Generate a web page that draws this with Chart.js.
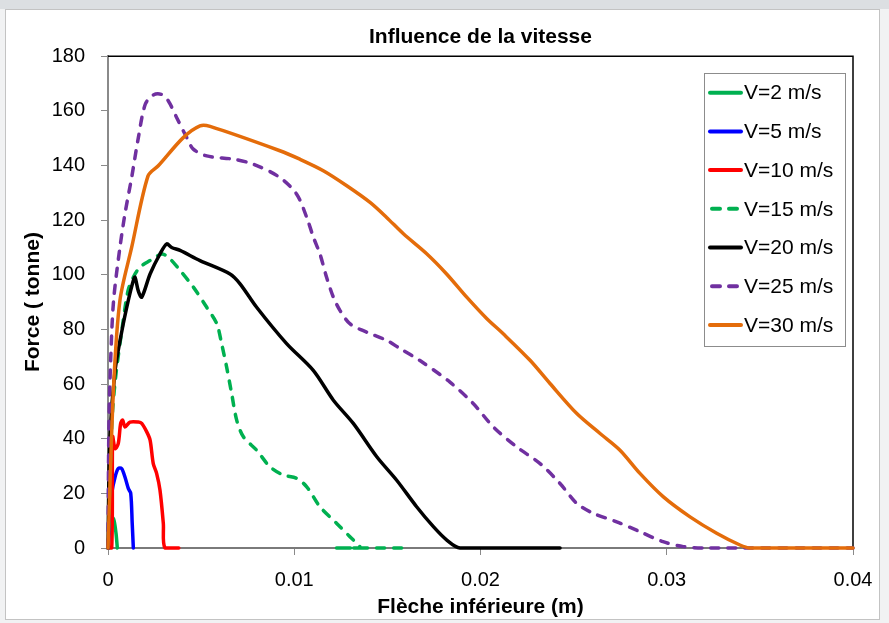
<!DOCTYPE html>
<html>
<head>
<meta charset="utf-8">
<title>Influence de la vitesse</title>
<script src="https://cdn.jsdelivr.net/npm/chart.js@4.4.0/dist/chart.umd.min.js"></script>
<style>
  html, body { margin: 0; padding: 0; background: #f1f2f3; }
  #topBar { position: absolute; left: 0; top: 0; width: 889px; height: 9px; background: #dcdfe2; }
  #frame { position: absolute; left: 5px; top: 9px; width: 873px; height: 609px; border: 1px solid #c3c3c3; background: #fff; }
  #wrap { position: absolute; left: 0; top: 0; width: 889px; height: 623px; }
</style>
</head>
<body>
<div id="topBar"></div>
<div id="frame"></div>
<div id="wrap"><canvas id="forceChart" width="889" height="623"></canvas></div>

<script>
// ---- data (x = flèche en m, y = force en tonnes) ----
const seriesLabels = ["V=2 m/s", "V=5 m/s", "V=10 m/s", "V=15 m/s", "V=20 m/s", "V=25 m/s", "V=30 m/s"];

const v2X = [0, 0.00012, 0.0002, 0.00032, 0.00043, 0.0005];
const v2F = [0, 10, 11.4, 10.2, 5.4, 0];

const v5X = [0, 0.00015, 0.0002, 0.00038, 0.00055, 0.00073, 0.00091, 0.00109, 0.00122, 0.0013, 0.00136];
const v5F = [0, 14, 20, 26, 29.1, 29.1, 26, 21.8, 20, 9, 0];

const v10X = [0, 0.0002, 0.00025, 0.00038, 0.00055, 0.00068, 0.00079, 0.00091, 0.00118, 0.00163, 0.00181,
              0.00208, 0.00226, 0.00243, 0.00261, 0.00279, 0.00297, 0.00306, 0.0038];
const v10F = [0, 0, 40.7, 36.4, 38.2, 45.6, 46.8, 44.3, 46.1, 46.1, 45.6,
              42.5, 39.5, 30.9, 27.3, 21.2, 9, 0, 0];

const v15X = [0, 0.0002, 0.0004, 0.00075, 0.00107, 0.00136, 0.00172, 0.00226, 0.00288, 0.00324, 0.00387,
              0.00458, 0.0053, 0.00584, 0.0061, 0.00637, 0.00664, 0.00691, 0.00727, 0.00798, 0.0087,
              0.00941, 0.01013, 0.01067, 0.01138, 0.01228, 0.01299, 0.01353, 0.0122, 0.0162];
const v15F = [0, 45, 62, 80, 94, 99.1, 102.8, 105.2, 107.6, 106.4, 101.6,
              95.5, 88.1, 82.1, 74.8, 66.2, 56.5, 46.8, 40.7, 35.8, 29.7,
              26.7, 25.5, 22.4, 15.1, 9, 4.1, 0, 0, 0];

const v20X = [0, 0.0001, 0.00038, 0.00075, 0.00109, 0.00136, 0.00145, 0.00163, 0.00181, 0.00226, 0.00279,
              0.00315, 0.00342, 0.00387, 0.00494, 0.00655, 0.00709, 0.00798, 0.00959, 0.01102, 0.0121,
              0.01317, 0.01443, 0.0155, 0.01657, 0.01747, 0.01819, 0.0189, 0.02427];
const v20F = [0, 40, 65, 79.6, 90.6, 97.9, 99.1, 94, 91.8, 100.3, 107.6,
              111.3, 110, 108.9, 105.2, 100.3, 96.7, 88.1, 74.8, 65, 54.1,
              45.6, 33.4, 24.8, 15.1, 7.8, 2.9, 0, 0];

const v25X = [0, 0.00005, 0.00015, 0.0003, 0.00064, 0.00091, 0.00127, 0.00163, 0.002, 0.00243, 0.00288,
              0.00324, 0.00369, 0.00423, 0.00458, 0.0053, 0.00673, 0.0078, 0.00923, 0.01013, 0.01067,
              0.01103, 0.01138, 0.01174, 0.0121, 0.01246, 0.013, 0.01389, 0.01496, 0.0157, 0.01675,
              0.01836, 0.01962, 0.02069, 0.02194, 0.0232, 0.02427, 0.02517, 0.02606, 0.02731, 0.02855,
              0.0298, 0.03089, 0.032, 0.04];
const v25F = [0, 45, 70, 90.6, 110, 122.3, 135.6, 150.2, 162.4, 165.8, 166,
              163.6, 157.5, 150.2, 146, 143.5, 142.3, 140.5, 135.6, 129.5, 121,
              113.7, 107.6, 99, 91.8, 86.9, 82, 79, 76, 72.9, 68.6,
              60.7, 52.8, 44.3, 37, 30.9, 23.6, 16.3, 12.7, 9.6, 6,
              2.3, 0.5, 0, 0];

const v30X = [0, 0.00029, 0.00064, 0.00127, 0.00215, 0.0027, 0.00404, 0.00494, 0.00548, 0.00923, 0.0103,
              0.01156, 0.01282, 0.01407, 0.01496, 0.01586, 0.01711, 0.01818, 0.01926, 0.02033, 0.02122,
              0.02266, 0.02373, 0.02517, 0.02642, 0.02749, 0.02856, 0.02982, 0.03125, 0.03268, 0.03393,
              0.03447, 0.04];
const v30F = [0, 57.7, 90.6, 110, 136.2, 139.9, 150.2, 154.5, 154.3, 145.4, 142.3,
              138.1, 132.6, 126.5, 121, 115, 107.7, 100.3, 91.8, 84, 78.4,
              68.7, 60.2, 49.2, 41.9, 35.8, 27.3, 18.7, 11.4, 5.4, 1.1,
              0, 0];

const xTickLabels = ["0", "0.01", "0.02", "0.03", "0.04"];
const yTickLabels = ["0", "20", "40", "60", "80", "100", "120", "140", "160", "180"];

const seriesX = [v2X, v5X, v10X, v15X, v20X, v25X, v30X];
const seriesF = [v2F, v5F, v10F, v15F, v20F, v25F, v30F];
const seriesColors = ["#00b050", "#0000ff", "#ff0000", "#00b050", "#000000", "#7030a0", "#e46c0a"];
const seriesDashed = [false, false, false, true, false, true, false];

const FONT = "'Liberation Sans', Arial, sans-serif";
const DASH = [8, 9];

// excel-like frame: black top/right edges of the plot area
const plotBorder = {
    id: "plotBorder",
    beforeDatasetsDraw(chart) {
        const { ctx, chartArea: a } = chart;
        ctx.save();
        ctx.strokeStyle = "#000";
        ctx.lineWidth = 1.5;
        ctx.beginPath();
        ctx.moveTo(a.left, a.top);
        ctx.lineTo(a.right, a.top);
        ctx.lineTo(a.right, a.bottom);
        ctx.stroke();
        ctx.restore();
    }
};

// boxed legend inside the plot, top right
const boxLegend = {
    id: "boxLegend",
    afterDraw(chart) {
        const ctx = chart.ctx;
        const left = 704, top = 73, w = 141, h = 273;
        ctx.save();
        ctx.fillStyle = "#fff";
        ctx.fillRect(left, top, w, h);
        ctx.strokeStyle = "#8c8c8c";
        ctx.lineWidth = 1;
        ctx.strokeRect(left + 0.5, top + 0.5, w, h);
        ctx.font = "21px " + FONT;
        ctx.textBaseline = "middle";
        ctx.textAlign = "left";
        chart.data.datasets.forEach((ds, i) => {
            const y = 92.7 + i * 38.7;
            ctx.strokeStyle = ds.borderColor;
            ctx.lineWidth = 4;
            ctx.lineCap = "round";
            ctx.setLineDash(ds.borderDash || []);
            ctx.beginPath();
            ctx.moveTo(ds.borderDash ? 712 : 710, y);
            ctx.lineTo(741, y);
            ctx.stroke();
            ctx.setLineDash([]);
            ctx.fillStyle = "#000";
            ctx.fillText(ds.label, 744, y + 1);
        });
        ctx.restore();
    }
};

const datasets = seriesLabels.map((label, i) => ({
    label: label,
    data: seriesX[i].map((x, k) => ({ x: x, y: seriesF[i][k] })),
    borderColor: seriesColors[i],
    backgroundColor: seriesColors[i],
    borderWidth: 3.5,
    borderDash: seriesDashed[i] ? DASH : undefined,
    borderCapStyle: "round",
    borderJoinStyle: "round",
    showLine: true,
    pointRadius: 0,
    tension: 0.3,
    clip: false,
    order: seriesLabels.length - i   // last series on top, as in the sheet
}));

new Chart(document.getElementById("forceChart"), {
    type: "scatter",
    data: { datasets: datasets },
    plugins: [plotBorder, boxLegend],
    options: {
        responsive: false,
        animation: false,
        layout: { padding: { left: 0, right: 36, top: 0, bottom: 0 } },
        plugins: {
            legend: { display: false },
            tooltip: { enabled: false },
            title: {
                display: true,
                fullSize: false,
                text: "Influence de la vitesse",
                color: "#000",
                font: { family: FONT, size: 21, weight: "bold" },
                padding: { top: 25, bottom: 6 }
            }
        },
        scales: {
            x: {
                type: "linear",
                min: 0,
                max: 0.04,
                afterFit(scale) { scale.height = 75; },
                ticks: {
                    stepSize: 0.01,
                    padding: 13,
                    color: "#000",
                    font: { family: FONT, size: 20 },
                    callback: (v, i) => xTickLabels[i]
                },
                grid: { drawOnChartArea: false, drawTicks: true, tickLength: 7, color: "#8a8a8a" },
                border: { color: "#7a7a7a", width: 2 },
                title: {
                    display: true,
                    text: "Flèche inférieure (m)",
                    color: "#000",
                    font: { family: FONT, size: 21, weight: "bold" },
                    padding: { top: 0, bottom: 3 }
                }
            },
            y: {
                min: 0,
                max: 180,
                afterFit(scale) { scale.width = 108; },
                ticks: {
                    stepSize: 20,
                    padding: 16,
                    color: "#000",
                    font: { family: FONT, size: 20 },
                    callback: (v, i) => yTickLabels[i]
                },
                grid: { drawOnChartArea: false, drawTicks: true, tickLength: 7, color: "#8a8a8a" },
                border: { color: "#8a8a8a", width: 2 },
                title: {
                    display: true,
                    text: "Force ( tonne)",
                    color: "#000",
                    font: { family: FONT, size: 21, weight: "bold" },
                    padding: { top: 21, bottom: 0 }
                }
            }
        }
    }
});
</script>
</body>
</html>
